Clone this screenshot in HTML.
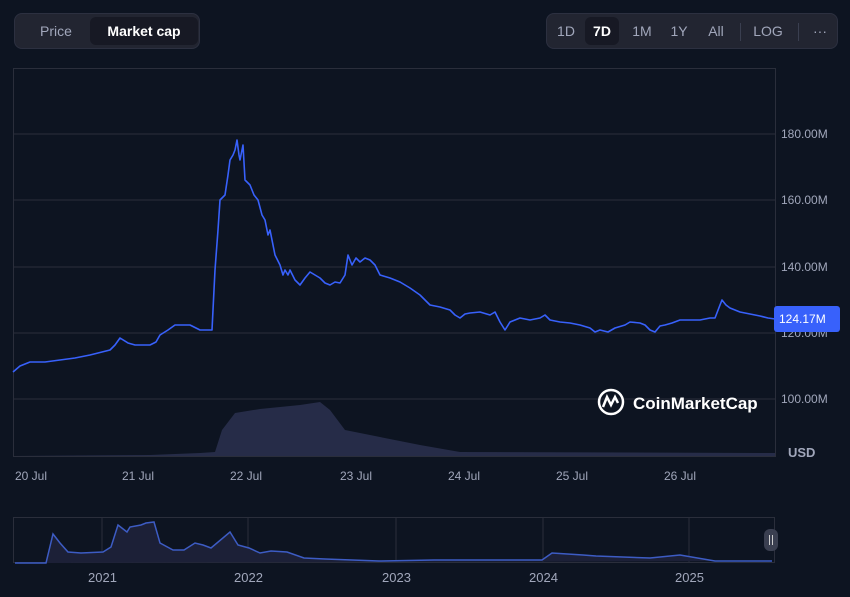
<!DOCTYPE html>
<html><head><style>
body{margin:0;width:850px;height:597px;background:#0d1421;overflow:hidden;font-family:"Liberation Sans",sans-serif;}
.grp{position:absolute;top:13px;height:36px;background:#222531;border-radius:8px;border:1px solid #2c3040;box-sizing:border-box;}
.b{position:absolute;top:3px;height:28px;line-height:28px;font-size:14px;color:#a1a7bb;text-align:center;border-radius:6px;}
.act{background:#171924;color:#fff;font-weight:bold;}
</style></head><body>
<div class="grp" style="left:14px;width:186px">
<div class="b" style="left:6px;width:70px">Price</div>
<div class="b act" style="left:75px;width:108px">Market cap</div>
</div>
<div class="grp" style="left:546px;width:292px">
<div class="b" style="left:4px;width:30px">1D</div>
<div class="b act" style="left:38px;width:34px">7D</div>
<div class="b" style="left:78px;width:34px">1M</div>
<div class="b" style="left:118px;width:28px">1Y</div>
<div class="b" style="left:153px;width:32px">All</div>
<div style="position:absolute;left:193px;top:9px;width:1px;height:18px;background:#3a3f50"></div>
<div class="b" style="left:200px;width:42px">LOG</div>
<div style="position:absolute;left:251px;top:9px;width:1px;height:18px;background:#3a3f50"></div>
<div class="b" style="left:258px;width:30px">···</div>
</div>
<svg width="850" height="597" style="position:absolute;left:0;top:0" font-family="Liberation Sans, sans-serif">
<rect x="13.5" y="68.5" width="762" height="388" fill="none" stroke="#2a2e3b"/>
<g stroke="#2a2e3b"><line x1="13" x2="776" y1="134" y2="134"/><line x1="13" x2="776" y1="200" y2="200"/><line x1="13" x2="776" y1="267" y2="267"/><line x1="13" x2="776" y1="333" y2="333"/><line x1="13" x2="776" y1="399" y2="399"/></g>
<g fill="#a1a7bb" font-size="12"><text x="781" y="138">180.00M</text><text x="781" y="204">160.00M</text><text x="781" y="271">140.00M</text><text x="781" y="337">120.00M</text><text x="781" y="403">100.00M</text><text x="788" y="457" font-weight="bold" font-size="13">USD</text></g>
<path d="M13,456 L150,455 L200,453 L215,452 L222,430 L235,413 L260,409 L300,405 L320,402 L330,410 L345,430 L380,437 L420,445 L460,452 L775,453 L775,456 Z" fill="#262c48"/>
<polyline fill="none" stroke="#3861fb" stroke-width="1.6" stroke-linejoin="round" points="13,372 20,366 30,362 45,362 60,360 75,358 90,355 110,350 115,345 120,338 128,343 135,345 150,345 156,342 160,335 168,330 175,325 190,325 200,330 212,330 215,270 218,230 220,200 225,195 228,175 230,160 233,155 235,150 237,140 239,155 240,160 243,145 245,180 250,185 254,195 258,200 262,215 265,220 268,235 270,230 273,245 275,255 280,265 283,275 285,270 288,275 290,270 295,280 300,285 305,278 310,272 315,275 320,278 325,283 330,285 335,282 340,283 345,275 348,255 352,265 356,258 360,262 365,258 370,260 375,265 380,275 390,278 400,282 410,288 420,295 425,300 430,305 440,307 450,310 455,315 460,318 465,314 470,313 480,312 490,315 495,312 500,322 505,330 510,322 515,320 520,318 530,320 540,318 545,315 550,320 560,322 570,323 580,325 590,328 595,332 600,330 608,332 615,328 625,325 630,322 640,323 645,325 650,330 655,332 660,326 665,325 672,323 680,320 690,320 700,320 710,318 715,318 720,305 722,300 726,305 730,308 735,310 740,312 750,314 760,316 768,318 775,319"/>
<rect x="774" y="306" width="66" height="26" rx="3" fill="#3861fb"/>
<text x="779" y="323" fill="#fff" font-size="12">124.17M</text>
<g transform="translate(598,389)"><circle cx="13" cy="13" r="12" fill="none" stroke="#fff" stroke-width="2.5"/><path d="M5,18 L9,8 L13,16 L17,8 L20,14" fill="none" stroke="#fff" stroke-width="2.5"/></g>
<text x="633" y="409" fill="#fff" font-size="17" font-weight="bold">CoinMarketCap</text>
<g fill="#a1a7bb" font-size="12"><text x="15" y="480">20 Jul</text><text x="122" y="480">21 Jul</text><text x="230" y="480">22 Jul</text><text x="340" y="480">23 Jul</text><text x="448" y="480">24 Jul</text><text x="556" y="480">25 Jul</text><text x="664" y="480">26 Jul</text></g>
<rect x="13.5" y="517.5" width="761" height="45" fill="none" stroke="#2a2e3b"/>
<g stroke="#2a2e3b"><line x1="102" x2="102" y1="517" y2="563"/><line x1="248" x2="248" y1="517" y2="563"/><line x1="396" x2="396" y1="517" y2="563"/><line x1="543" x2="543" y1="517" y2="563"/><line x1="689" x2="689" y1="517" y2="563"/></g>
<path d="M15,563 L46,563 L53,534 L60,543 L68,552 L81,553 L103,552 L111,547 L118,525 L127,532 L130,527 L141,525 L146,523 L154,522 L160,543 L173,550 L184,550 L195,543 L203,545 L211,548 L230,532 L238,545 L249,548 L260,553 L271,551 L287,552 L304,558 L325,559 L379,561 L434,560 L542,560 L552,553 L583,555 L596,556 L650,558 L680,555 L715,561 L772,561" fill="#1c2037" stroke="#3d5cc4" stroke-width="1.5"/>
<rect x="764" y="529" width="14" height="22" rx="6" fill="#3a3f50"/>
<g stroke="#ccc"><line x1="769.5" x2="769.5" y1="535" y2="545"/><line x1="772.5" x2="772.5" y1="535" y2="545"/></g>
<g fill="#a1a7bb" font-size="13"><text x="88" y="582">2021</text><text x="234" y="582">2022</text><text x="382" y="582">2023</text><text x="529" y="582">2024</text><text x="675" y="582">2025</text></g>
</svg>
</body></html>
